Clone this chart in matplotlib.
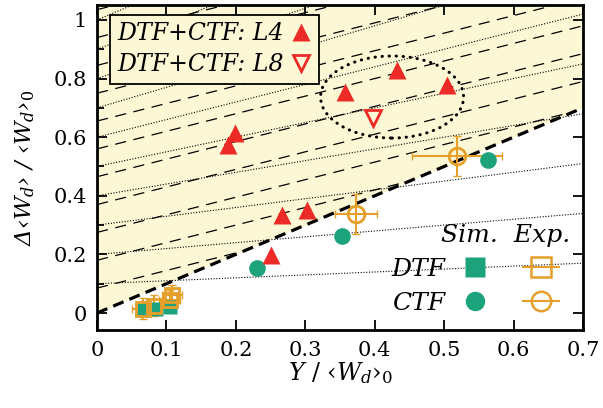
import numpy as np
import matplotlib
matplotlib.use('Agg')
import matplotlib.pyplot as plt
from matplotlib.patches import Ellipse
from matplotlib.legend_handler import HandlerTuple, HandlerErrorbar
from matplotlib.container import ErrorbarContainer

plt.rcParams['font.family'] = 'DejaVu Serif'
plt.rcParams['mathtext.fontset'] = 'custom'
plt.rcParams['mathtext.it'] = 'DejaVu Serif:italic'
plt.rcParams['mathtext.rm'] = 'DejaVu Serif'

RED = '#ec2b27'
GREEN = '#1ca37b'
ORANGE = '#e69f2a'
YELLOW = '#fcf8d5'

# dotted guide lines, y = c * (1 + Y)
dot_c = [0.1, 0.2, 0.3, 0.4, 0.5, 0.6, 0.7, 0.8, 0.9, 1.0]
# dashed guide lines, y = c + 0.6 * Y
dash_c = [0.085, 0.18, 0.275, 0.37, 0.465, 0.56, 0.655, 0.75, 0.845, 0.94, 1.035]
dash_slope = 0.6

# simulations, combined DTF+CTF
l4_x = [0.189, 0.199, 0.251, 0.267, 0.303, 0.357, 0.432, 0.504]
l4_y = [0.573, 0.614, 0.198, 0.334, 0.352, 0.754, 0.830, 0.778]
l8_x = [0.398]
l8_y = [0.666]

# simulations, single
dtf_sim_x = [0.065, 0.085, 0.105]
dtf_sim_y = [0.010, 0.015, 0.020]
ctf_sim_x = [0.230, 0.353, 0.563]
ctf_sim_y = [0.154, 0.263, 0.522]

# experiments
dtf_exp_x = [0.066, 0.082, 0.105, 0.108]
dtf_exp_y = [0.015, 0.025, 0.045, 0.060]
dtf_exp_xerr = [0.015, 0.015, 0.015, 0.015]
dtf_exp_yerr = [0.035, 0.035, 0.035, 0.035]
ctf_exp_x = [0.373, 0.519]
ctf_exp_y = [0.338, 0.536]
ctf_exp_xerr = [0.030, 0.065]
ctf_exp_yerr = [0.068, 0.068]

fig = plt.figure(figsize=(6.03, 4.08), dpi=100)
ax = fig.add_axes([97/603, 78/408, 486/603, 325/408])

xx = np.linspace(0, 0.7, 300)
ax.fill_between(xx, xx, 1.2, color=YELLOW, lw=0, zorder=0)

for c in dash_c:
    yy = c + dash_slope * xx
    yy = np.where(yy >= xx, yy, np.nan)
    ax.plot(xx, yy, color='k', lw=0.9, ls=(0, (9, 6)), zorder=1)
for c in dot_c:
    ax.plot(xx, c * (1 + xx), color='k', lw=0.8, ls=(0, (1, 1.5)), zorder=1)

ax.plot(xx, xx, color='k', lw=2.3, ls=(0, (3.5, 2)), zorder=2)

ell = Ellipse((0.425, 0.737), 0.206, 0.28, fill=False, color='k', lw=2.2,
              ls=(0, (0.1, 2.2)), capstyle='round', zorder=2)
ax.add_patch(ell)

ax.errorbar(dtf_exp_x, dtf_exp_y, xerr=dtf_exp_xerr, yerr=dtf_exp_yerr, fmt='none',
            ecolor=ORANGE, elinewidth=1.5, capsize=3, zorder=3)
ax.errorbar(ctf_exp_x, ctf_exp_y, xerr=ctf_exp_xerr, yerr=ctf_exp_yerr, fmt='none',
            ecolor=ORANGE, elinewidth=1.5, capsize=3, zorder=3)

ax.plot(dtf_sim_x, dtf_sim_y, 's', color=GREEN, ms=10, mec='none', zorder=4)
ax.plot(ctf_sim_x, ctf_sim_y, 'o', color=GREEN, ms=12, mec='none', zorder=4)
ax.plot(dtf_exp_x, dtf_exp_y, 's', mfc='none', mec=ORANGE, mew=2, ms=10, zorder=5)
ax.plot(ctf_exp_x, ctf_exp_y, 'o', mfc='none', mec=ORANGE, mew=2, ms=12, zorder=5)

h4, = ax.plot(l4_x, l4_y, '^', color=RED, ms=13, mec='none', zorder=6)
h8, = ax.plot(l8_x, l8_y, 'v', mfc='none', mec=RED, mew=2, ms=12, zorder=6)

ax.set_xlim(0, 0.7)
ax.set_ylim(-0.058, 1.051)
ax.set_xticks(np.arange(0, 0.71, 0.1))
ax.set_xticklabels(['0', '0.1', '0.2', '0.3', '0.4', '0.5', '0.6', '0.7'])
ax.set_yticks(np.arange(0, 1.01, 0.2))
ax.set_yticklabels(['0', '0.2', '0.4', '0.6', '0.8', '1'])
ax.set_yticks(np.arange(0.1, 1.0, 0.2), minor=True)
ax.tick_params(which='both', direction='in', top=True, right=True, labelsize=15,
               width=1.3, length=7)
ax.tick_params(axis='x', pad=8)
ax.tick_params(axis='y', pad=7)
ax.tick_params(which='minor', right=False, length=5)
for s in ax.spines.values():
    s.set_linewidth(2)

ax.set_xlabel('$Y$ / ‹$W_d$›$_{\\mathit{0}}$', fontsize=17, labelpad=0)
ax.set_ylabel('Δ‹$W_d$› / ‹$W_d$›$_{\\mathit{0}}$', fontsize=16.5, style='italic', labelpad=12)

leg1 = ax.legend([h4, h8], ['DTF+CTF: L4', 'DTF+CTF: L8'], loc='upper left',
                 bbox_to_anchor=(0.027, 0.969), borderaxespad=0, markerfirst=False,
                 handlelength=0.9, handletextpad=0.3, borderpad=0.3, labelspacing=0.35,
                 fancybox=False, framealpha=1, facecolor=YELLOW, edgecolor='k',
                 prop={'style': 'italic', 'size': 17})
leg1.get_frame().set_linewidth(1.3)
ax.add_artist(leg1)

p_dtf_s, = ax.plot([], [], 's', color=GREEN, ms=14, mec='none')
p_ctf_s, = ax.plot([], [], 'o', color=GREEN, ms=14, mec='none')
p_dtf_e = ax.errorbar([], [], xerr=[], fmt='s', mfc='none', mec=ORANGE, mew=1.8, ms=14,
                      ecolor=ORANGE, elinewidth=1.5, capsize=3)
p_ctf_e = ax.errorbar([], [], xerr=[], fmt='o', mfc='none', mec=ORANGE, mew=1.8, ms=14,
                      ecolor=ORANGE, elinewidth=1.5, capsize=3)
leg2 = ax.legend([(p_dtf_s, p_dtf_e), (p_ctf_s, p_ctf_e)], ['DTF', 'CTF'],
                 handler_map={tuple: HandlerTuple(ndivide=None, pad=0.3),
                              ErrorbarContainer: HandlerErrorbar(xerr_size=0.75)},
                 loc='lower right', bbox_to_anchor=(0.995, 0.015), borderaxespad=0,
                 markerfirst=False, frameon=False, handlelength=5.0, handletextpad=0.0,
                 labelspacing=0.45, title='Sim.  Exp.', alignment='right',
                 prop={'style': 'italic', 'size': 18},
                 title_fontproperties={'style': 'italic', 'size': 18})

fig.savefig('out.png', dpi=100)
